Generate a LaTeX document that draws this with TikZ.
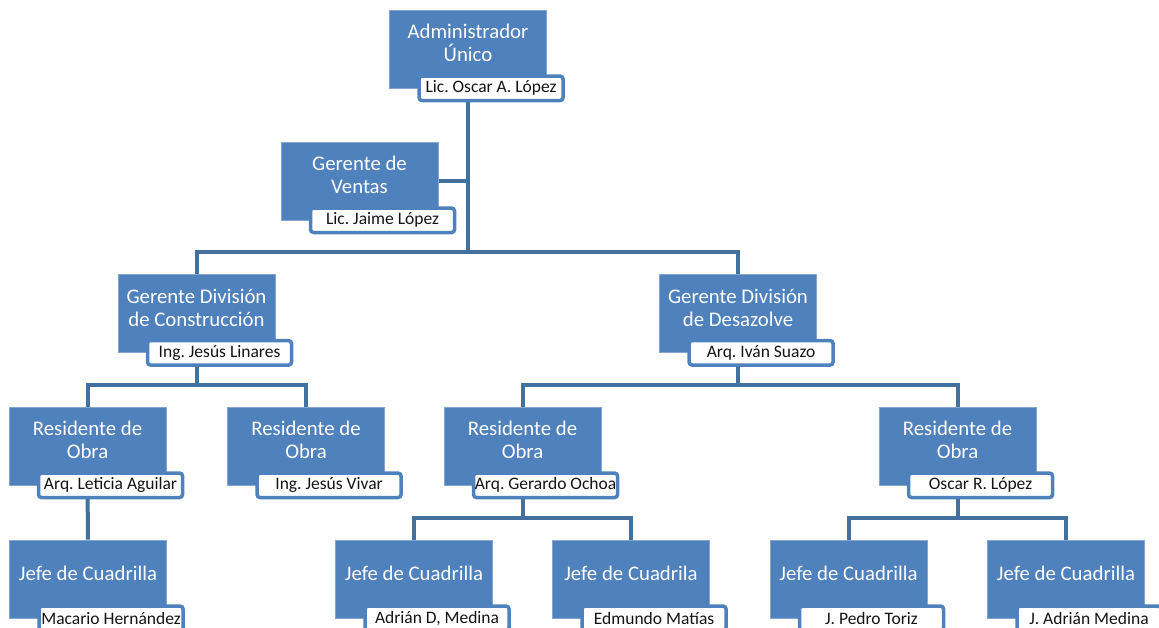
\documentclass[tikz,border=0pt]{standalone}
\usepackage{fontspec}
\setmainfont{Carlito}
\usetikzlibrary{backgrounds}
\definecolor{boxblue}{HTML}{4F81BD}
\definecolor{lineblue}{HTML}{41719C}
\definecolor{nametext}{HTML}{141414}
\frenchspacing

\begin{document}
\begin{tikzpicture}[x=1pt,y=-1pt,
    puesto/.style={fill=boxblue, draw=boxblue!70!white, line width=0.6pt, text=white,
      minimum width=157pt, minimum height=78pt, inner sep=0pt, align=center,
      text depth=12pt, font=\fontsize{20.8}{23}\selectfont},
    nombre/.style={fill=white, draw=boxblue, line width=3.5pt, rounded corners=3pt,
      minimum width=144pt, minimum height=24.5pt, inner sep=0pt, anchor=north east,
      text=nametext, font=\fontsize{17.5}{19}\selectfont},
    linea/.style={draw=lineblue, line width=4pt}]
        \clip (0,0) rectangle (1159,628);
        % top
        \node[puesto] (adm) at (468,49) {Administrador\\Único};
        \node[nombre] (adm-n) at ([shift={(18pt,14pt)}]adm.south east) {Lic. Oscar A. López};
        \node[puesto] (gv) at (359.5,181) {Gerente de\\Ventas};
        \node[nombre] (gv-n) at ([shift={(18pt,14pt)}]gv.south east) {Lic. Jaime López};
        % divisions
        \node[puesto] (gdc) at (196.5,313.5) {Gerente División\\de Construcción};
        \node[nombre] (gdc-n) at ([shift={(18pt,14pt)}]gdc.south east) {Ing. Jesús Linares};
        \node[puesto] (gdd) at (738,313.5) {Gerente División\\de Desazolve};
        \node[nombre] (gdd-n) at ([shift={(18pt,14pt)}]gdd.south east) {Arq. Iván Suazo};
        % residentes
        \node[puesto] (res1) at (87.5,446) {Residente de\\Obra};
        \node[nombre] (res1-n) at ([shift={(18pt,14pt)}]res1.south east) {Arq. Leticia Aguilar};
        \node[puesto] (res2) at (306,446) {Residente de\\Obra};
        \node[nombre] (res2-n) at ([shift={(18pt,14pt)}]res2.south east) {Ing. Jesús Vivar};
        \node[puesto] (res3) at (522.5,446) {Residente de\\Obra};
        \node[nombre] (res3-n) at ([shift={(18pt,14pt)}]res3.south east) {Arq. Gerardo Ochoa};
        \node[puesto] (res4) at (957.5,446) {Residente de\\Obra};
        \node[nombre] (res4-n) at ([shift={(18pt,14pt)}]res4.south east) {Oscar R. López};
        % jefes de cuadrilla
        \node[puesto] (jefe1) at (88,579) {Jefe de Cuadrilla};
        \node[nombre] (jefe1-n) at ([shift={(18pt,14pt)}]jefe1.south east) {Macario Hernández};
        \node[puesto] (jefe2) at (414,579) {Jefe de Cuadrilla};
        \node[nombre] (jefe2-n) at ([shift={(18pt,14pt)}]jefe2.south east) {Adrián D, Medina};
        \node[puesto] (jefe3) at (631,579) {Jefe de Cuadrila};
        \node[nombre] (jefe3-n) at ([shift={(18pt,14pt)}]jefe3.south east) {Edmundo Matías};
        \node[puesto] (jefe4) at (848.5,579) {Jefe de Cuadrilla};
        \node[nombre] (jefe4-n) at ([shift={(18pt,14pt)}]jefe4.south east) {J. Pedro Toriz};
        \node[puesto] (jefe5) at (1066,579) {Jefe de Cuadrilla};
        \node[nombre] (jefe5-n) at ([shift={(18pt,14pt)}]jefe5.south east) {J. Adrián Medina};
        % buses
        \coordinate (bus-a) at (0,252);
        \coordinate (bus-b) at (0,385);
        \coordinate (bus-c) at (0,518);
        \begin{scope}[on background layer]
            \draw[linea] (adm.south) -- (adm.south |- bus-a);
            \draw[linea] (gv.east) -- (gv.east -| adm.south);
            \draw[linea] (gdc.north) |- (gdd.north |- bus-a) -- (gdd.north);
            \draw[linea] (gdc.south) -- (gdc.south |- bus-b);
            \draw[linea] (res1.north) |- (res2.north |- bus-b) -- (res2.north);
            \draw[linea] (gdd.south) -- (gdd.south |- bus-b);
            \draw[linea] (res3.north) |- (res4.north |- bus-b) -- (res4.north);
            \draw[linea] (res1.south) -- (jefe1.north);
            \draw[linea] (res3.south) -- (res3.south |- bus-c);
            \draw[linea] (jefe2.north) |- (jefe3.north |- bus-c) -- (jefe3.north);
            \draw[linea] (res4.south) -- (res4.south |- bus-c);
            \draw[linea] (jefe4.north) |- (jefe5.north |- bus-c) -- (jefe5.north);
        \end{scope}
    \end{tikzpicture}
\end{document}
